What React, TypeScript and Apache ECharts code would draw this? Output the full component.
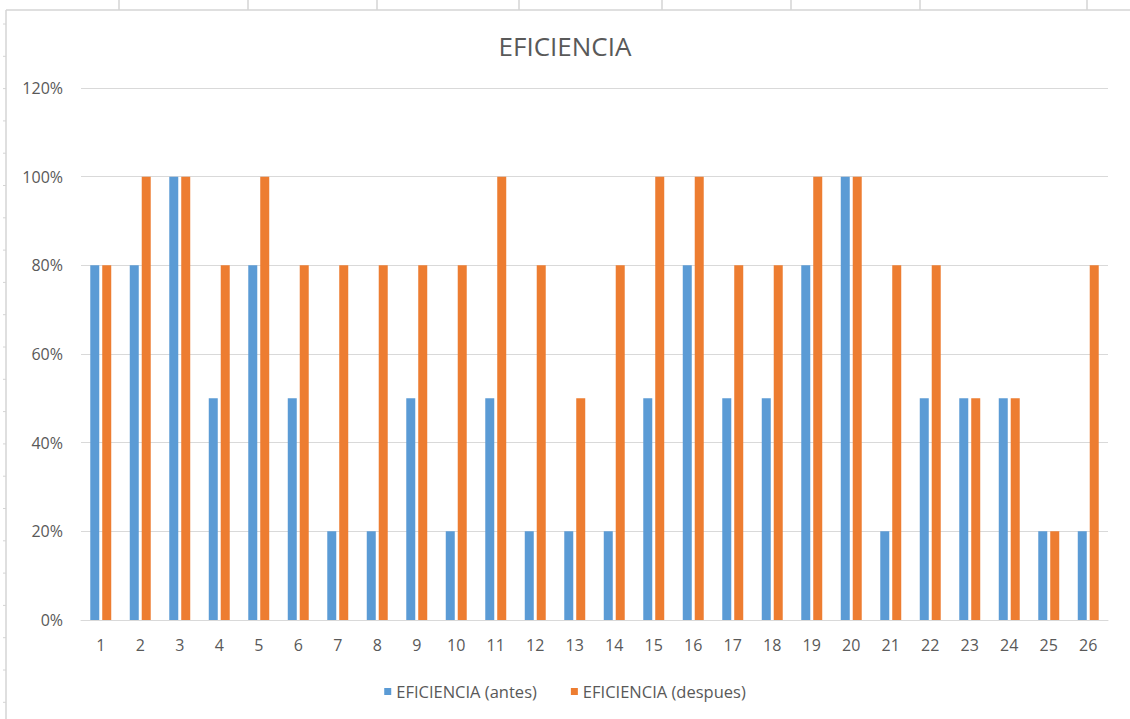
import React, { useEffect, useRef } from "react";
import * as echarts from "echarts";

// Row numbers 1..26 along the category axis
const categories = [
  "1", "2", "3", "4", "5", "6", "7", "8", "9", "10", "11", "12", "13",
  "14", "15", "16", "17", "18", "19", "20", "21", "22", "23", "24", "25", "26",
];

// Efficiency before the change, in percent
const antes = [
  80, 80, 100, 50, 80, 50, 20, 20, 50, 20, 50, 20, 20,
  20, 50, 80, 50, 50, 80, 100, 20, 50, 50, 50, 20, 20,
];

// Efficiency after the change, in percent
const despues = [
  80, 100, 100, 80, 100, 80, 80, 80, 80, 80, 100, 80, 50,
  80, 100, 100, 80, 80, 100, 100, 80, 80, 50, 50, 20, 80,
];

const seriesNames = ["EFICIENCIA (antes)", "EFICIENCIA (despues)"];
const titleText = "EFICIENCIA";

const FONT = "'Open Sans', 'Liberation Sans', sans-serif";
const TEXT = "#595959";
const GRID = "#D9D9D9";

// Spreadsheet frame around the chart object: column marks on top, row marks on the left
const columnMarks = [119, 248, 377, 519, 662, 791, 920, 1087];

function frameGraphics() {
  const els: any[] = [];
  const stroke = { stroke: "#D4D4D4", lineWidth: 1.5 };
  els.push({ type: "line", shape: { x1: 6, y1: 10, x2: 1130, y2: 10 }, style: stroke, silent: true });
  els.push({ type: "line", shape: { x1: 6, y1: 10, x2: 6, y2: 719 }, style: stroke, silent: true });
  columnMarks.forEach((x) => {
    els.push({ type: "line", shape: { x1: x, y1: 0, x2: x, y2: 10 }, style: stroke, silent: true });
  });
  for (let y = 24; y < 719; y += 32.3) {
    els.push({ type: "line", shape: { x1: 3, y1: y, x2: 6, y2: y }, style: { stroke: "#D4D4D4", lineWidth: 1 }, silent: true });
  }
  return els;
}

export default function App() {
  const ref = useRef<HTMLDivElement>(null);

  useEffect(() => {
    if (!ref.current) return;
    const chart = echarts.init(ref.current, null, { renderer: "svg" });
    chart.setOption({
      animation: false,
      backgroundColor: "#ffffff",
      title: {
        text: titleText,
        left: "center",
        top: 28,
        textStyle: { fontFamily: FONT, fontSize: 26, fontWeight: "normal", color: TEXT },
      },
      legend: {
        top: 678,
        left: "center",
        itemWidth: 7,
        itemHeight: 7,
        itemGap: 34,
        icon: "rect",
        textStyle: { fontFamily: FONT, fontSize: 16.5, color: TEXT },
        data: seriesNames,
      },
      grid: { left: 81, right: 22, top: 88, bottom: 99, containLabel: false },
      xAxis: {
        type: "category",
        data: categories,
        axisLine: { lineStyle: { color: GRID, width: 1 } },
        axisTick: { show: false },
        axisLabel: { fontFamily: FONT, fontSize: 16, color: TEXT, margin: 17 },
      },
      yAxis: {
        type: "value",
        min: 0,
        max: 120,
        interval: 20,
        axisLine: { show: false },
        axisTick: { show: false },
        splitLine: { lineStyle: { color: GRID, width: 1 } },
        axisLabel: { fontFamily: FONT, fontSize: 16, color: TEXT, margin: 18, formatter: "{value}%" },
      },
      series: [
        {
          name: seriesNames[0],
          type: "bar",
          data: antes,
          barWidth: 9,
          barGap: "33%",
          itemStyle: { color: "#5B9BD5" },
        },
        {
          name: seriesNames[1],
          type: "bar",
          data: despues,
          barWidth: 9,
          barGap: "33%",
          itemStyle: { color: "#ED7D31" },
        },
      ],
      graphic: frameGraphics(),
    });
    return () => chart.dispose();
  }, []);

  return (
    <div
      ref={ref}
      style={{ position: "fixed", left: 0, top: 0, width: 1130, height: 719, background: "#fff" }}
    />
  );
}
